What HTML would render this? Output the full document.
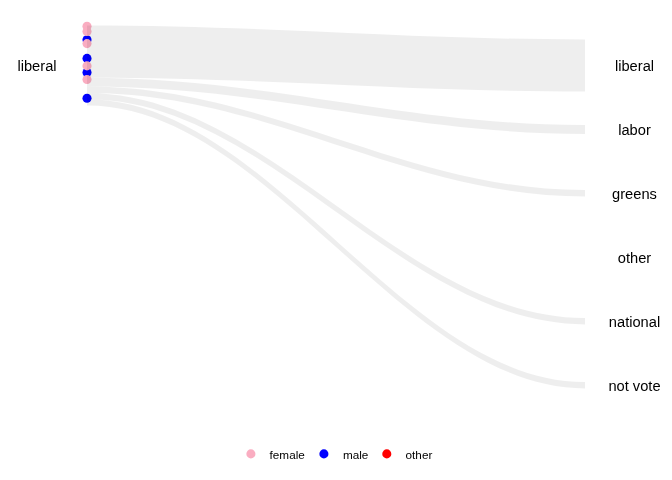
<!DOCTYPE html>
<html><head><meta charset="utf-8"><style>
html,body{margin:0;padding:0;background:#fff;}
svg{display:block;will-change:transform;}
text{font-family:"Liberation Sans",sans-serif;fill:#000;}
</style></head><body>
<svg width="672" height="480" viewBox="0 0 672 480">
<rect width="672" height="480" fill="#fff"/>
<circle cx="87" cy="39.8" r="4.55" fill="#0000FF"/>
<circle cx="87" cy="58.4" r="4.55" fill="#0000FF"/>
<circle cx="87" cy="72.5" r="4.55" fill="#0000FF"/>
<circle cx="87" cy="98.2" r="4.55" fill="#0000FF"/>
<circle cx="87" cy="26.3" r="4.55" fill="#FAADC1"/>
<circle cx="87" cy="31.5" r="4.55" fill="#FAADC1"/>
<circle cx="87" cy="43.6" r="4.55" fill="#FAADC1"/>
<circle cx="87" cy="65.9" r="4.55" fill="#FAADC1"/>
<circle cx="87" cy="79.5" r="4.55" fill="#FAADC1"/>
<g fill="#000000" fill-opacity="0.068">
<path d="M87,25.50 C268.77,25.50 403.23,39.40 585,39.40 L585,91.60 C403.23,91.60 268.77,77.70 87,77.70 Z"/>
<path d="M87,77.70 C268.77,77.70 403.23,125.00 585,125.00 L585,133.90 C403.23,133.90 268.77,86.60 87,86.60 Z"/>
<path d="M87,86.60 C268.77,86.60 403.23,190.10 585,190.10 L585,196.40 C403.23,196.40 268.77,92.90 87,92.90 Z"/>
<path d="M87,92.90 C268.77,92.90 403.23,318.10 585,318.10 L585,324.40 C403.23,324.40 268.77,99.20 87,99.20 Z"/>
<path d="M87,99.20 C268.77,99.20 403.23,382.10 585,382.10 L585,388.40 C403.23,388.40 268.77,105.50 87,105.50 Z"/>
</g>
<g font-size="14.67">
<text x="37" y="70.6" text-anchor="middle">liberal</text>
<text x="634.5" y="70.60" text-anchor="middle">liberal</text>
<text x="634.5" y="134.60" text-anchor="middle">labor</text>
<text x="634.5" y="198.60" text-anchor="middle">greens</text>
<text x="634.5" y="262.60" text-anchor="middle">other</text>
<text x="634.5" y="326.60" text-anchor="middle">national</text>
<text x="634.5" y="390.60" text-anchor="middle">not vote</text>
</g>
<circle cx="250.9" cy="453.9" r="4.55" fill="#FAADC1"/>
<text x="269.6" y="458.9" font-size="11.73">female</text>
<circle cx="323.9" cy="453.9" r="4.55" fill="#0000FF"/>
<text x="342.9" y="458.9" font-size="11.73">male</text>
<circle cx="386.8" cy="453.9" r="4.55" fill="#FF0000"/>
<text x="405.6" y="458.9" font-size="11.73">other</text>
</svg>
</body></html>
